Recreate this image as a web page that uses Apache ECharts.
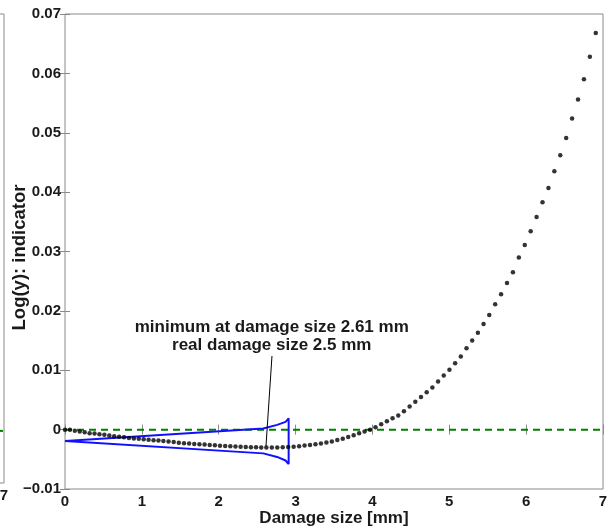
<!DOCTYPE html>
<html><head><meta charset="utf-8">
<script src="https://cdn.jsdelivr.net/npm/echarts@6/dist/echarts.min.js"></script>
<style>html,body{margin:0;padding:0;background:#fff}#c{width:614px;height:529px}</style>
</head><body><div id="c"></div>
<script>
// ---- data ----
const damageX = [0, 0.064, 0.128, 0.192, 0.256, 0.32, 0.384, 0.448, 0.512, 0.576, 0.64, 0.704, 0.768, 0.832, 0.896, 0.96, 1.024, 1.088, 1.152, 1.216, 1.28,
  1.347, 1.414, 1.481, 1.548, 1.615, 1.682, 1.749, 1.816, 1.883, 1.95, 2.017, 2.084, 2.151, 2.218, 2.285, 2.352, 2.419, 2.486, 2.553, 2.62,
  2.691, 2.762, 2.833, 2.904, 2.975, 3.046, 3.117, 3.188, 3.259, 3.33, 3.401, 3.472, 3.543, 3.614, 3.685, 3.756, 3.827, 3.898, 3.969, 4.04,
  4.114, 4.188, 4.262, 4.336, 4.41, 4.484, 4.558, 4.632, 4.706, 4.78, 4.854, 4.928, 5.002, 5.076, 5.15, 5.224, 5.298, 5.372, 5.446, 5.52,
  5.597, 5.674, 5.751, 5.828, 5.905, 5.982, 6.059, 6.136, 6.213, 6.29, 6.367, 6.444, 6.521, 6.598, 6.675, 6.752, 6.829, 6.906];
const indicatorY = [0, -0.00003, -0.0002, -0.0003, -0.00045, -0.0006, -0.00065, -0.00077, -0.00088, -0.00099, -0.0011, -0.00122, -0.0013, -0.0014, -0.0015, -0.00155, -0.0016, -0.0017, -0.00177, -0.00185, -0.0019,
  -0.00202, -0.0021, -0.0022, -0.00228, -0.00234, -0.0024, -0.00245, -0.0025, -0.00258, -0.00264, -0.0027, -0.00275, -0.0028, -0.00285, -0.0029, -0.00293, -0.00296, -0.00298, -0.003, -0.003,
  -0.003, -0.003, -0.00298, -0.00294, -0.0029, -0.00278, -0.00266, -0.00257, -0.00247, -0.00235, -0.00217, -0.002, -0.00175, -0.00155, -0.00125, -0.00093, -0.00062, -0.0003, 0.0, 0.0004,
  0.0009, 0.0014, 0.0019, 0.0024, 0.0031, 0.0039, 0.0047, 0.0055, 0.0063, 0.0071, 0.0081, 0.0091, 0.0101, 0.0112, 0.0123, 0.0137, 0.0150, 0.0163, 0.0178, 0.0193,
  0.0211, 0.0228, 0.0247, 0.0265, 0.0290, 0.0311, 0.0334, 0.0358, 0.0383, 0.0407, 0.0435, 0.0462, 0.0491, 0.0524, 0.0556, 0.0590, 0.0628, 0.0668];
const crackX = [0, 2.58, 2.76, 2.87, 2.91, 2.91, 2.87, 2.76, 2.58, 0];
const crackY = [-0.0019, 0.0002, 0.0008, 0.0013, 0.0019, -0.0058, -0.0052, -0.0046, -0.0040, -0.0019];
const zeroLineX = [0, 7];
const zeroLineY = [0, 0];
const xTickLabels = ['0', '1', '2', '3', '4', '5', '6', '7'];
const yTickLabels = ['\u22120.01', '0', '0.01', '0.02', '0.03', '0.04', '0.05', '0.06', '0.07'];
const annotationLines = ['minimum at damage size 2.61 mm', 'real damage size 2.5 mm'];
const annotationAt = [2.69, 0.0158];
const arrowFrom = [2.693, 0.0124];
const arrowTo = [2.615, -0.0028];
// left neighbouring panel (mostly cut off)
const leftZeroX = [0, 7];
const leftZeroY = [0, 0];

const pairs = (xs, ys) => xs.map((x, i) => [x, ys[i]]);
const FONT = 'Liberation Sans, Arial, sans-serif';
const GRAY = '#8a8a8a';
const TXT = '#1a1a1a';

const chart = echarts.init(document.getElementById('c'), null, {renderer: 'canvas'});
const xMin = 0, xMax = 7, yMin = -0.01, yMax = 0.07;
const xLab = v => xTickLabels[Math.round(v)] ?? '';
const yLab = v => yTickLabels[Math.round((v - yMin) / 0.01)] ?? '';

const tickIn = {show: true, inside: true, length: 5, lineStyle: {color: GRAY}};
const option = {
  animation: false,
  backgroundColor: '#fff',
  grid: [
    {left: 65, right: 11, top: 14, bottom: 40, show: true, borderColor: GRAY, borderWidth: 1, backgroundColor: 'transparent', outerBoundsMode: 'none', containLabel: false},
    {left: -400, width: 404, top: 14, bottom: 46, show: true, borderColor: GRAY, borderWidth: 1, backgroundColor: 'transparent', outerBoundsMode: 'none', containLabel: false}
  ],
  xAxis: [
    {gridIndex: 0, type: 'value', min: xMin, max: xMax, interval: 1, position: 'bottom',
     name: 'Damage size [mm]', nameLocation: 'middle', nameGap: 21, nameMoveOverlap: false,
     nameTextStyle: {fontFamily: FONT, fontSize: 17, fontWeight: 'bold', color: TXT},
     axisLine: {show: false}, axisTick: tickIn, splitLine: {show: false},
     axisLabel: {formatter: xLab, fontFamily: FONT, fontSize: 15, fontWeight: 'bold', color: TXT, margin: 5}},
    {gridIndex: 0, type: 'value', min: xMin, max: xMax, interval: 1, position: 'top',
     axisLine: {show: false}, axisTick: tickIn, splitLine: {show: false}, axisLabel: {show: false}},
    {gridIndex: 1, type: 'value', min: 0, max: 7, interval: 1, position: 'bottom',
     axisLine: {show: false}, axisTick: {show: false}, splitLine: {show: false},
     axisLabel: {formatter: xLab, fontFamily: FONT, fontSize: 15, fontWeight: 'bold', color: TXT, margin: 5}}
  ],
  yAxis: [
    {gridIndex: 0, type: 'value', min: yMin, max: yMax, interval: 0.01, position: 'left',
     name: 'Log(y): indicator', nameLocation: 'middle', nameGap: 36, nameRotate: 90, nameMoveOverlap: false,
     nameTextStyle: {fontFamily: FONT, fontSize: 18.5, fontWeight: 'bold', color: TXT, padding: [0, 12, 0, 0]},
     axisLine: {show: false}, axisTick: tickIn, splitLine: {show: false},
     axisLabel: {formatter: yLab, fontFamily: FONT, fontSize: 15, fontWeight: 'bold', color: TXT, margin: 4}},
    {gridIndex: 0, type: 'value', min: yMin, max: yMax, interval: 0.01, position: 'right',
     axisLine: {show: false}, axisTick: tickIn, splitLine: {show: false}, axisLabel: {show: false}},
    {gridIndex: 1, type: 'value', min: -1, max: 8, interval: 1, position: 'right',
     axisLine: {show: false}, axisTick: tickIn, splitLine: {show: false}, axisLabel: {show: false}}
  ],
  series: [
    {type: 'line', xAxisIndex: 2, yAxisIndex: 2, data: pairs(leftZeroX, leftZeroY), symbol: 'none',
     lineStyle: {color: '#008000', width: 2, type: [7, 5]}, silent: true},
    {type: 'line', xAxisIndex: 0, yAxisIndex: 0, data: pairs(zeroLineX, zeroLineY), symbol: 'none',
     lineStyle: {color: '#008000', width: 2, type: [7, 5]}, z: 2, silent: true},
    {type: 'line', xAxisIndex: 0, yAxisIndex: 0, data: pairs(crackX, crackY), symbol: 'none',
     lineStyle: {color: '#1010ff', width: 2}, z: 3, silent: true},
    {type: 'scatter', xAxisIndex: 0, yAxisIndex: 0, data: pairs(damageX, indicatorY),
     symbol: 'circle', symbolSize: 4.5, itemStyle: {color: '#000'}, z: 4, silent: true},
    {type: 'line', xAxisIndex: 0, yAxisIndex: 0, data: [], z: 5, silent: true,
     markLine: {silent: true, symbol: ['none', 'arrow'], symbolSize: [0, 9],
       lineStyle: {color: '#000', width: 1, type: 'solid'}, label: {show: false},
       data: [[{coord: arrowFrom}, {coord: arrowTo}]]},
     markPoint: {silent: true, symbol: 'circle', symbolSize: 1, itemStyle: {color: 'rgba(0,0,0,0)'},
       label: {show: true, position: 'inside', formatter: annotationLines.join('\n'), fontFamily: FONT,
         fontSize: 17, fontWeight: 'bold', lineHeight: 18, color: TXT, align: 'center'},
       data: [{coord: annotationAt}]}}
  ]
};
chart.setOption(option);
</script>
</body></html>
